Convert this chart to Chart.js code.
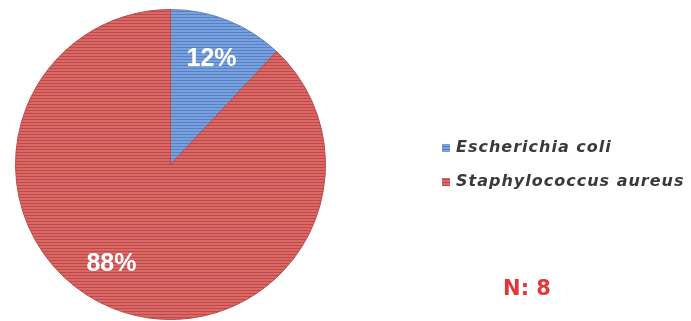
<!DOCTYPE html>
<html>
<head>
<meta charset="utf-8">
<script src="https://cdn.jsdelivr.net/npm/chart.js@4.4.1/dist/chart.umd.min.js"></script>
<style>
  html, body { margin: 0; padding: 0; background: #fff; }
  #wrap { width: 691px; height: 321px; position: relative; }
</style>
</head>
<body>
<div id="wrap"><canvas id="pie"></canvas></div>
<script>
const species = ['Escherichia coli', 'Staphylococcus aureus'];
const shares = [12, 88];
const sampleLabel = 'N: 8';

const baseColors = ['#78a1e0', '#dc6866'];
const lineColors = ['#5a80c2', '#bb4b4a'];

// horizontal scanline fill used for the slices and the legend swatches
function stripes(base, line) {
  const c = document.createElement('canvas');
  c.width = 4;
  c.height = 3;
  const g = c.getContext('2d');
  g.fillStyle = base;
  g.fillRect(0, 0, 4, 3);
  g.fillStyle = line;
  g.fillRect(0, 2, 4, 1);
  return g.createPattern(c, 'repeat');
}

const fills = baseColors.map((b, i) => stripes(b, lineColors[i]));

// the big slice's label sits a bit left of its mid-angle
const labelNudge = [[0, -2], [-18, -4]];

const sliceLabels = {
  id: 'sliceLabels',
  afterDatasetsDraw(chart) {
    const ctx = chart.ctx;
    const meta = chart.getDatasetMeta(0);
    ctx.save();
    ctx.font = 'bold 25px "Liberation Sans", Arial, sans-serif';
    ctx.fillStyle = '#ffffff';
    ctx.textAlign = 'center';
    ctx.textBaseline = 'middle';
    meta.data.forEach((arc, i) => {
      const { x, y, startAngle, endAngle, outerRadius } = arc.getProps(['x', 'y', 'startAngle', 'endAngle', 'outerRadius'], true);
      const mid = (startAngle + endAngle) / 2;
      const r = outerRadius * 0.72;
      ctx.fillText(shares[i] + '%', x + Math.cos(mid) * r + labelNudge[i][0], y + Math.sin(mid) * r + labelNudge[i][1]);
    });
    ctx.restore();
  }
};

const sideLegend = {
  id: 'sideLegend',
  afterDraw(chart) {
    const ctx = chart.ctx;
    ctx.save();
    ctx.textBaseline = 'middle';
    ctx.font = 'italic bold 16px "DejaVu Sans", Verdana, sans-serif';
    ctx.letterSpacing = '1px';
    species.forEach((name, i) => {
      const y = 148 + i * 34;
      ctx.fillStyle = fills[i];
      ctx.fillRect(442, y - 4, 8, 8);
      ctx.fillStyle = '#3a3a3a';
      ctx.fillText(name, 456, y);
    });
    ctx.letterSpacing = '0px';
    ctx.font = 'bold 21px "DejaVu Sans", Verdana, sans-serif';
    ctx.fillStyle = '#e3363b';
    ctx.textAlign = 'center';
    ctx.fillText(sampleLabel, 527, 290);
    ctx.restore();
  }
};

new Chart(document.getElementById('pie'), {
  type: 'pie',
  data: {
    labels: species,
    datasets: [{
      data: shares,
      backgroundColor: fills,
      borderColor: lineColors,
      borderWidth: 1
    }]
  },
  options: {
    responsive: true,
    maintainAspectRatio: false,
    animation: false,
    layout: { padding: { left: 15, top: 9, bottom: 1, right: 365 } },
    plugins: {
      legend: { display: false },
      tooltip: { enabled: false }
    }
  },
  plugins: [sliceLabels, sideLegend]
});
</script>
</body>
</html>
